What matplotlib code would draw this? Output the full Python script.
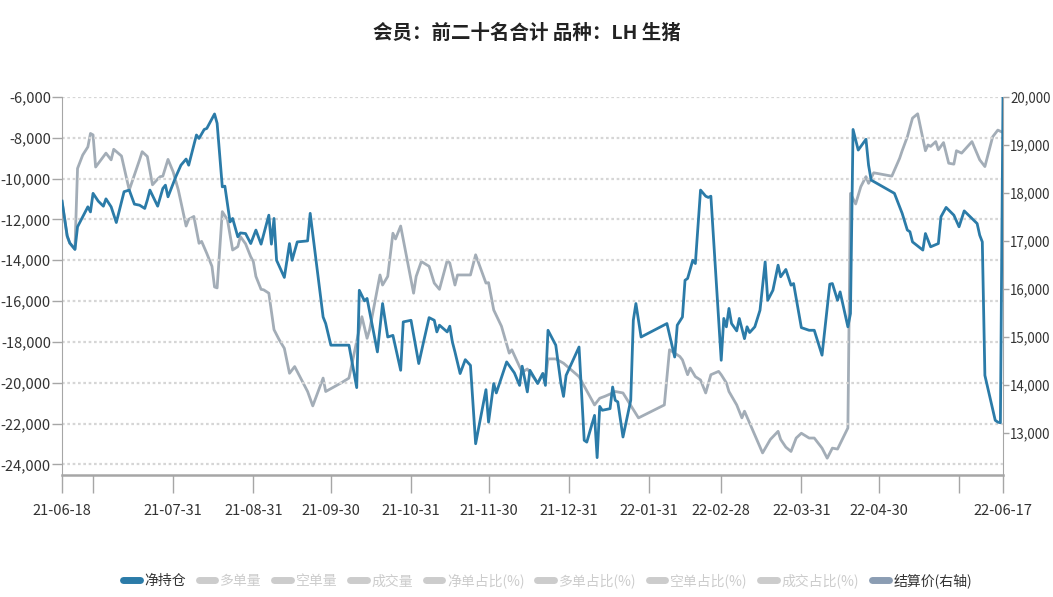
import pandas as pd
import matplotlib
matplotlib.use("Agg")
import matplotlib.pyplot as plt
from matplotlib.lines import Line2D
from matplotlib.ticker import FuncFormatter

plt.rcParams['font.family'] = ['Noto Sans CJK SC', 'DejaVu Sans']
plt.rcParams['axes.unicode_minus'] = False

TITLE = "会员：前二十名合计 品种：LH 生猪"

# ---- 净持仓 (left axis) ----
net_dates = [
    "2021-06-18", "2021-06-20", "2021-06-21", "2021-06-23", "2021-06-24", "2021-06-28", "2021-06-29", "2021-06-30",
    "2021-07-02", "2021-07-04", "2021-07-05", "2021-07-07", "2021-07-09", "2021-07-12", "2021-07-14", "2021-07-16",
    "2021-07-18", "2021-07-20", "2021-07-21", "2021-07-22", "2021-07-25", "2021-07-27", "2021-07-28", "2021-07-29",
    "2021-08-01", "2021-08-03", "2021-08-05", "2021-08-06", "2021-08-09", "2021-08-10", "2021-08-12", "2021-08-13",
    "2021-08-16", "2021-08-17", "2021-08-19", "2021-08-20", "2021-08-22", "2021-08-23", "2021-08-25", "2021-08-26",
    "2021-08-28", "2021-08-30", "2021-09-01", "2021-09-03", "2021-09-06", "2021-09-07", "2021-09-08", "2021-09-09",
    "2021-09-12", "2021-09-14", "2021-09-15", "2021-09-17", "2021-09-21", "2021-09-22", "2021-09-27", "2021-09-28",
    "2021-09-30", "2021-10-07", "2021-10-10", "2021-10-11", "2021-10-13", "2021-10-14", "2021-10-18", "2021-10-20",
    "2021-10-22", "2021-10-24", "2021-10-27", "2021-10-28", "2021-10-31", "2021-11-03", "2021-11-05", "2021-11-07",
    "2021-11-09", "2021-11-10", "2021-11-11", "2021-11-14", "2021-11-15", "2021-11-16", "2021-11-17", "2021-11-19",
    "2021-11-21", "2021-11-23", "2021-11-25", "2021-11-29", "2021-11-30", "2021-12-02", "2021-12-03", "2021-12-07",
    "2021-12-10", "2021-12-12", "2021-12-13", "2021-12-15", "2021-12-16", "2021-12-19", "2021-12-21", "2021-12-22",
    "2021-12-23", "2021-12-26", "2021-12-28", "2021-12-29", "2021-12-30", "2022-01-04", "2022-01-06", "2022-01-07",
    "2022-01-10", "2022-01-11", "2022-01-12", "2022-01-13", "2022-01-16", "2022-01-17", "2022-01-18", "2022-01-19",
    "2022-01-21", "2022-01-24", "2022-01-25", "2022-01-26", "2022-01-28", "2022-02-07", "2022-02-10", "2022-02-11",
    "2022-02-13", "2022-02-14", "2022-02-15", "2022-02-17", "2022-02-18", "2022-02-20", "2022-02-22", "2022-02-23",
    "2022-02-24", "2022-02-28", "2022-03-01", "2022-03-02", "2022-03-03", "2022-03-04", "2022-03-06", "2022-03-07",
    "2022-03-09", "2022-03-10", "2022-03-11", "2022-03-13", "2022-03-15", "2022-03-17", "2022-03-18", "2022-03-20",
    "2022-03-22", "2022-03-23", "2022-03-25", "2022-03-27", "2022-03-28", "2022-03-31", "2022-04-03", "2022-04-05",
    "2022-04-07", "2022-04-08", "2022-04-11", "2022-04-12", "2022-04-14", "2022-04-15", "2022-04-18", "2022-04-19",
    "2022-04-20", "2022-04-22", "2022-04-25", "2022-04-26", "2022-04-27", "2022-05-06", "2022-05-09", "2022-05-11",
    "2022-05-12", "2022-05-13", "2022-05-17", "2022-05-18", "2022-05-20", "2022-05-23", "2022-05-24", "2022-05-26",
    "2022-05-29", "2022-05-31", "2022-06-02", "2022-06-05", "2022-06-07", "2022-06-08", "2022-06-09", "2022-06-10",
    "2022-06-14", "2022-06-15", "2022-06-16", "2022-06-17",
]
net_values = [
    -11100, -12800, -13150, -13470, -12360, -11380, -11630, -10720,
    -11100, -11350, -10990, -11380, -12150, -10640, -10560, -11250,
    -11300, -11460, -11050, -10560, -11350, -10480, -10320, -10890,
    -9910, -9340, -9040, -9340, -7860, -8030, -7590, -7540,
    -6830, -7290, -10400, -10370, -12120, -11950, -12850, -12660,
    -12690, -13180, -12520, -13210, -11790, -13210, -11950, -14000,
    -14840, -13180, -14000, -13100, -13050, -11700, -16780, -17100,
    -18160, -18160, -20240, -15470, -15990, -15870, -18490, -16120,
    -17760, -17680, -19390, -17020, -16940, -19060, -17920, -16810,
    -16940, -17510, -17180, -17510, -17230, -18000, -18490, -19550,
    -18870, -19150, -22990, -20340, -21930, -20040, -20500, -18980,
    -19520, -20130, -19190, -20450, -19390, -20040, -19550, -20130,
    -17430, -18160, -20040, -20670, -19640, -18250, -22820, -22910,
    -21600, -23670, -21160, -21350, -21270, -20210, -20860, -20940,
    -22660, -20860, -16940, -16120, -17760, -17100, -18740, -17180,
    -16780, -14980, -14890, -14000, -14160, -10560, -10860, -10920,
    -10860, -18900, -16850, -17260, -16360, -17100, -17460, -16850,
    -17840, -17260, -17540, -17260, -16450, -14080, -15960, -15470,
    -14240, -14810, -14450, -15220, -15140, -17300, -17430, -17430,
    -18250, -18650, -15170, -15140, -15960, -15550, -17260, -16610,
    -7590, -8600, -8070, -9340, -10070, -10720, -11700, -12520,
    -12600, -13100, -13500, -12690, -13340, -13180, -11870, -11410,
    -11790, -12360, -11580, -11950, -12200, -12770, -13100, -19640,
    -21840, -21930, -21960, -6000,
]

# ---- 结算价 (right axis) ----
price_dates = [
    "2021-06-18", "2021-06-20", "2021-06-21", "2021-06-23", "2021-06-24", "2021-06-26", "2021-06-28", "2021-06-29",
    "2021-06-30", "2021-07-01", "2021-07-05", "2021-07-07", "2021-07-08", "2021-07-11", "2021-07-14", "2021-07-18",
    "2021-07-19", "2021-07-21", "2021-07-23", "2021-07-25", "2021-07-26", "2021-07-27", "2021-07-29", "2021-07-31",
    "2021-08-02", "2021-08-05", "2021-08-06", "2021-08-08", "2021-08-10", "2021-08-11", "2021-08-13", "2021-08-15",
    "2021-08-16", "2021-08-17", "2021-08-19", "2021-08-21", "2021-08-23", "2021-08-25", "2021-08-26", "2021-08-28",
    "2021-08-30", "2021-08-31", "2021-09-01", "2021-09-03", "2021-09-04", "2021-09-06", "2021-09-08", "2021-09-10",
    "2021-09-12", "2021-09-14", "2021-09-16", "2021-09-21", "2021-09-23", "2021-09-26", "2021-09-27", "2021-09-28",
    "2021-10-04", "2021-10-07", "2021-10-12", "2021-10-14", "2021-10-15", "2021-10-19", "2021-10-20", "2021-10-22",
    "2021-10-24", "2021-10-25", "2021-10-27", "2021-11-01", "2021-11-02", "2021-11-04", "2021-11-07", "2021-11-09",
    "2021-11-11", "2021-11-14", "2021-11-15", "2021-11-17", "2021-11-18", "2021-11-23", "2021-11-25", "2021-11-29",
    "2021-11-30", "2021-12-02", "2021-12-05", "2021-12-08", "2021-12-09", "2021-12-12", "2021-12-13", "2021-12-15",
    "2021-12-19", "2021-12-21", "2021-12-22", "2021-12-23", "2021-12-26", "2021-12-29", "2022-01-04", "2022-01-10",
    "2022-01-12", "2022-01-14", "2022-01-17", "2022-01-18", "2022-01-21", "2022-01-27", "2022-02-06", "2022-02-08",
    "2022-02-10", "2022-02-12", "2022-02-13", "2022-02-15", "2022-02-16", "2022-02-18", "2022-02-20", "2022-02-22",
    "2022-02-24", "2022-02-27", "2022-02-28", "2022-03-02", "2022-03-03", "2022-03-06", "2022-03-08", "2022-03-09",
    "2022-03-11", "2022-03-16", "2022-03-19", "2022-03-22", "2022-03-23", "2022-03-25", "2022-03-27", "2022-03-29",
    "2022-03-31", "2022-04-03", "2022-04-05", "2022-04-08", "2022-04-10", "2022-04-12", "2022-04-14", "2022-04-18",
    "2022-04-19", "2022-04-21", "2022-04-23", "2022-04-25", "2022-04-26", "2022-04-28", "2022-05-05", "2022-05-08",
    "2022-05-09", "2022-05-11", "2022-05-13", "2022-05-15", "2022-05-18", "2022-05-19", "2022-05-20", "2022-05-22",
    "2022-05-23", "2022-05-25", "2022-05-27", "2022-05-29", "2022-05-30", "2022-06-01", "2022-06-05", "2022-06-08",
    "2022-06-10", "2022-06-13", "2022-06-15", "2022-06-17",
]
price_values = [
    17820, 17090, 16950, 16830, 18510, 18790, 18960, 19240,
    19210, 18540, 18830, 18690, 18910, 18770, 18060, 18690,
    18860, 18760, 18170, 18290, 18340, 18350, 18700, 18440,
    18060, 17310, 17450, 17510, 16950, 16990, 16740, 16470,
    16040, 16020, 17610, 17440, 16810, 16880, 17090, 16940,
    16670, 16570, 16260, 15990, 15980, 15910, 15150, 14940,
    14760, 14240, 14380, 13860, 13560, 14000, 14140, 13860,
    14040, 14140, 15420, 14970, 15150, 16290, 16080, 16260,
    17160, 17040, 17310, 15910, 16260, 16570, 16470, 16120,
    15990, 16590, 16540, 16080, 16290, 16290, 16710, 16120,
    16130, 15560, 15220, 14660, 14730, 14380, 14260, 14330,
    14040, 14240, 14100, 14540, 14540, 14450, 14170, 13580,
    13720, 13760, 13830, 13860, 13830, 13310, 13580, 14730,
    14660, 14590, 14520, 14210, 14350, 14170, 14100, 13830,
    14210, 14280, 14210, 14040, 13860, 13580, 13310, 13450,
    13200, 12580, 12860, 13030, 12860, 12700, 12610, 12890,
    12990, 12890, 12890, 12680, 12470, 12680, 12660, 13100,
    17990, 17770, 18130, 18340, 18200, 18420, 18350, 18720,
    18880, 19170, 19560, 19650, 18880, 19000, 18970, 19070,
    18900, 19050, 18620, 18600, 18880, 18830, 19070, 18690,
    18550, 19170, 19310, 19260,
]

x_tick_dates = ["2021-06-18", "2021-06-30", "2021-07-31", "2021-08-31", "2021-09-30", "2021-10-31",
                "2021-11-30", "2021-12-31", "2022-01-31", "2022-02-28", "2022-03-31", "2022-04-30",
                "2022-05-31", "2022-06-17"]
x_tick_labels = ["21-06-18", "", "21-07-31", "21-08-31", "21-09-30", "21-10-31",
                 "21-11-30", "21-12-31", "22-01-31", "22-02-28", "22-03-31", "22-04-30",
                 "", "22-06-17"]
left_ticks = [-24000, -22000, -20000, -18000, -16000, -14000, -12000, -10000, -8000, -6000]
right_ticks = [13000, 14000, 15000, 16000, 17000, 18000, 19000, 20000]

legend_labels = ["净持仓", "多单量", "空单量", "成交量", "净单占比(%)", "多单占比(%)",
                 "空单占比(%)", "成交占比(%)", "结算价(右轴)"]
legend_active = [True, False, False, False, False, False, False, False, True]

BLUE = "#2b7ba8"
GREY = "#a3adb7"
INACTIVE = "#cccccc"
AXIS = "#a6a6a6"
TXT = "#333333"

fig = plt.figure(figsize=(10.53, 5.97), dpi=100)
ax = fig.add_axes([0.0589, 0.2044, 0.8936, 0.6331])
ax2 = ax.twinx()

ax2.plot(pd.to_datetime(price_dates), price_values, color=GREY, lw=2.0, zorder=2)
ax.plot(pd.to_datetime(net_dates), net_values, color=BLUE, lw=2.0, zorder=3)
ax.set_zorder(ax2.get_zorder() + 1)
ax.patch.set_visible(False)

ax.set_xlim(pd.Timestamp("2021-06-18"), pd.Timestamp("2022-06-17"))
ax.set_ylim(-24520, -6000)
ax2.set_ylim(12120, 20000)

fmt = FuncFormatter(lambda v, p: f"{int(v):,}")
ax.set_yticks(left_ticks)
ax.yaxis.set_major_formatter(fmt)
ax2.set_yticks(right_ticks)
ax2.yaxis.set_major_formatter(fmt)

ax.set_xticks(pd.to_datetime(x_tick_dates))
ax.set_xticklabels(x_tick_labels)

ax.grid(axis="y", color="#d6d6d6", lw=1.6, ls=(0, (1.2, 1.2)))
ax.set_axisbelow(True)

for a in (ax, ax2):
    for s in a.spines.values():
        s.set_visible(False)
ax.spines["left"].set_visible(True)
ax.spines["left"].set_color(AXIS)
ax.spines["bottom"].set_visible(True)
ax.spines["bottom"].set_color(AXIS)
ax.spines["bottom"].set_linewidth(1.8)
ax2.spines["right"].set_visible(True)
ax2.spines["right"].set_color(AXIS)

ax.tick_params(axis="y", length=7, width=1, color=AXIS, labelsize=10.5, labelcolor=TXT, pad=1)
ax.tick_params(axis="x", length=13, width=1, color=AXIS, labelsize=10.5, labelcolor=TXT, pad=8)
ax2.tick_params(axis="y", length=4, width=1, color=AXIS, labelsize=9.6, labelcolor=TXT, pad=1)

fig.text(0.5, 0.945, TITLE, ha="center", va="center", fontsize=14, fontweight="bold", color="#222222")

series_colors = [BLUE] + [INACTIVE] * 7 + ["#8b9db3"]
handles = [Line2D([0], [0], color=c if on else INACTIVE, lw=5, solid_capstyle="round")
           for c, on in zip(series_colors, legend_active)]
leg = fig.legend(handles, legend_labels, loc="center", bbox_to_anchor=(0.52, 0.027), ncol=9,
                 frameon=False, fontsize=10, handlelength=1.2, handletextpad=0.35, columnspacing=0.9)
for t, on in zip(leg.get_texts(), legend_active):
    t.set_color(TXT if on else INACTIVE)

fig.savefig("out.png", dpi=100)
